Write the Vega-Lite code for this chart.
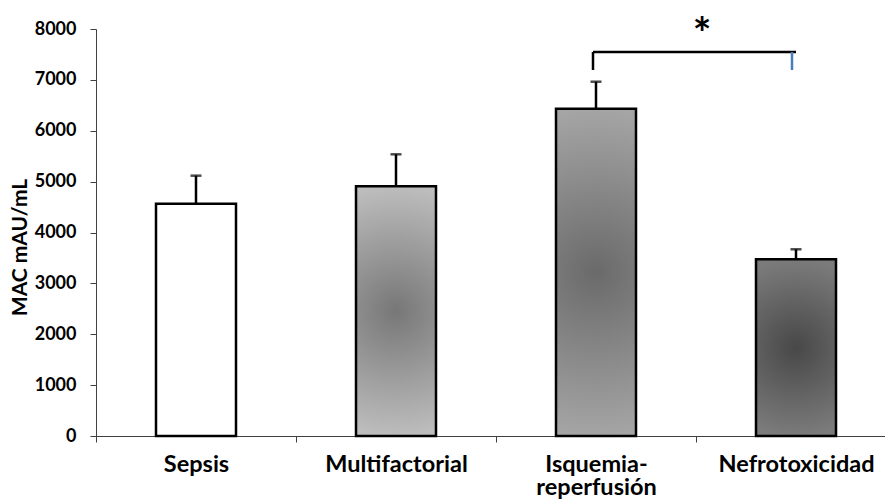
{
  "$schema": "https://vega.github.io/schema/vega-lite/v6.json",
  "autosize": "none",
  "width": 789,
  "height": 407,
  "padding": {"left": 96, "top": 29, "right": 0, "bottom": 64},
  "background": "white",
  "config": {
    "view": {"stroke": null},
    "font": "Lato",
    "axis": {"grid": false, "domainColor": "#404040", "tickColor": "#404040", "domainWidth": 1, "tickWidth": 1, "labelColor": "#000000", "titleColor": "#000000", "labelFont": "Lato", "titleFont": "Lato", "labelFontWeight": "bold", "titleFontWeight": "bold"}
  },
  "datasets": {
    "bars": [
      {"cat": "Sepsis", "mean": 4566, "upper": 5117},
      {"cat": "Multifactorial", "mean": 4908, "upper": 5537},
      {"cat": "Isquemia-reperfusión", "mean": 6434, "upper": 6964},
      {"cat": "Nefrotoxicidad", "mean": 3473, "upper": 3670}
    ],
    "bracket": [
      {"from": "Isquemia-reperfusión", "to": "Nefrotoxicidad", "top": 7548, "bottom": 7194, "label": "*", "labelY": 7607}
    ]
  },
  "data": {"name": "bars"},
  "encoding": {
    "x": {
      "field": "cat",
      "type": "nominal",
      "scale": {"domain": ["Sepsis", "Multifactorial", "Isquemia-reperfusión", "Nefrotoxicidad"], "paddingInner": 0, "paddingOuter": 0, "range": [0, 800]},
      "axis": {
        "title": null,
        "labelAngle": 0,
        "tickBand": "extent",
        "tickSize": 6,
        "labelPadding": 10,
        "labelFontSize": 23.5,
        "labelLineHeight": 23,
        "labelOverlap": false,
        "labelExpr": "datum.label == 'Isquemia-reperfusión' ? ['Isquemia-', 'reperfusión'] : datum.label"
      }
    }
  },
  "layer": [
    {
      "transform": [{"filter": "datum.cat == 'Sepsis'"}],
      "mark": {"type": "bar", "width": {"band": 0.4}, "fill": "#ffffff", "stroke": "#000000", "strokeWidth": 2.5},
      "encoding": {
        "y": {"field": "mean", "type": "quantitative", "scale": {"domain": [0, 8000]},
          "axis": {"title": "MAC mAU/mL", "values": [0,1000,2000,3000,4000,5000,6000,7000,8000], "tickSize": 6, "labelPadding": 14, "labelFontSize": 18, "titleFontSize": 21, "titleX": -70, "titleY": 218, "titleBaseline": "alphabetic", "format": "d"}}
      }
    },
    {
      "transform": [{"filter": "datum.cat == 'Multifactorial'"}],
      "mark": {"type": "bar", "width": {"band": 0.4}, "stroke": "#000000", "strokeWidth": 2.5,
        "fill": {"gradient": "radial", "x1": 0.5, "y1": 0.5, "r1": 0, "x2": 0.5, "y2": 0.5, "r2": 0.5,
          "stops": [{"offset": 0, "color": "#777777"}, {"offset": 1, "color": "#bdbdbd"}]}},
      "encoding": {"y": {"field": "mean", "type": "quantitative"}}
    },
    {
      "transform": [{"filter": "datum.cat == 'Isquemia-reperfusión'"}],
      "mark": {"type": "bar", "width": {"band": 0.4}, "stroke": "#000000", "strokeWidth": 2.5,
        "fill": {"gradient": "radial", "x1": 0.5, "y1": 0.5, "r1": 0, "x2": 0.5, "y2": 0.5, "r2": 0.5,
          "stops": [{"offset": 0, "color": "#6a6a6a"}, {"offset": 1, "color": "#a5a5a5"}]}},
      "encoding": {"y": {"field": "mean", "type": "quantitative"}}
    },
    {
      "transform": [{"filter": "datum.cat == 'Nefrotoxicidad'"}],
      "mark": {"type": "bar", "width": {"band": 0.4}, "stroke": "#000000", "strokeWidth": 2.5,
        "fill": {"gradient": "radial", "x1": 0.5, "y1": 0.5, "r1": 0, "x2": 0.5, "y2": 0.5, "r2": 0.5,
          "stops": [{"offset": 0, "color": "#484848"}, {"offset": 1, "color": "#7b7b7b"}]}},
      "encoding": {"y": {"field": "mean", "type": "quantitative"}}
    },
    {
      "mark": {"type": "rule", "color": "#000000", "strokeWidth": 2.5},
      "encoding": {"y": {"field": "mean", "type": "quantitative"}, "y2": {"field": "upper"}}
    },
    {
      "mark": {"type": "tick", "color": "#000000", "size": 11, "thickness": 2.5},
      "encoding": {"y": {"field": "upper", "type": "quantitative"}}
    },
    {
      "data": {"name": "bracket"},
      "mark": {"type": "rule", "color": "#000000", "strokeWidth": 2.5},
      "encoding": {
        "x": {"field": "from", "type": "nominal", "bandPosition": 0.485},
        "x2": {"field": "to"},
        "y": {"field": "top", "type": "quantitative"}
      }
    },
    {
      "data": {"name": "bracket"},
      "mark": {"type": "rule", "color": "#000000", "strokeWidth": 2.5},
      "encoding": {
        "x": {"field": "from", "type": "nominal", "bandPosition": 0.485},
        "y": {"field": "top", "type": "quantitative"},
        "y2": {"field": "bottom"}
      }
    },
    {
      "data": {"name": "bracket"},
      "mark": {"type": "rule", "color": "#4a7ebb", "strokeWidth": 2.5},
      "encoding": {
        "x": {"field": "to", "type": "nominal", "bandPosition": 0.48},
        "y": {"field": "top", "type": "quantitative"},
        "y2": {"field": "bottom"}
      }
    },
    {
      "data": {"name": "bracket"},
      "mark": {"type": "text", "fontSize": 44, "fontWeight": "bold", "font": "Lato", "color": "#000000", "baseline": "alphabetic", "align": "center", "dx": 106},
      "encoding": {
        "x": {"field": "from", "type": "nominal"},
        "y": {"field": "labelY", "type": "quantitative"},
        "text": {"field": "label"}
      }
    }
  ]
}
